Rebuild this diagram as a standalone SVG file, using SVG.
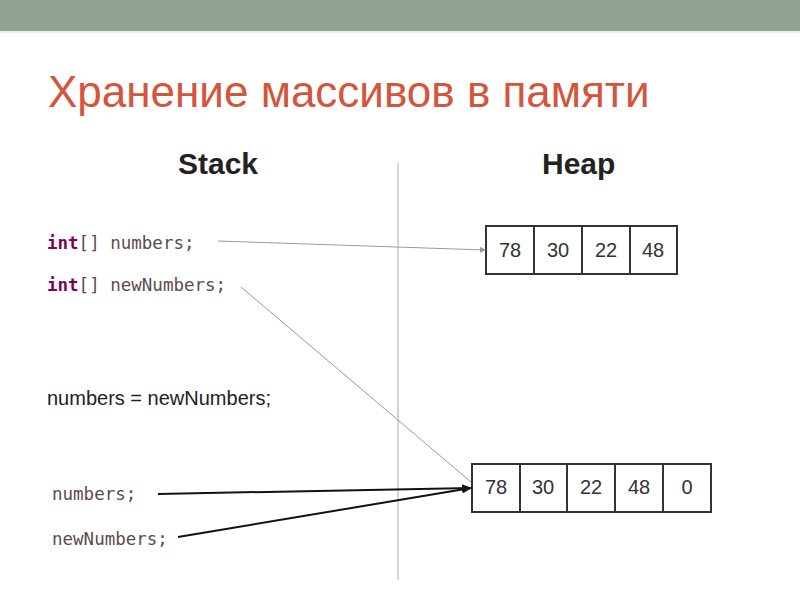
<svg xmlns="http://www.w3.org/2000/svg" width="800" height="600" viewBox="0 0 800 600">
<style>
.title{font-family:"Liberation Sans",Arial,sans-serif;font-size:44px;fill:#D2553C}
.head{font-family:"Liberation Sans",Arial,sans-serif;font-size:30px;font-weight:bold;fill:#222}
.code{font-family:"DejaVu Sans Mono",monospace;font-size:17.5px;fill:#5C4B4B}
.kw{font-weight:bold;fill:#7F0055}
.plain{font-family:"Liberation Sans",Arial,sans-serif;font-size:20px;fill:#222}
.cell{fill:#fff;stroke:#333;stroke-width:2}
.num{font-family:"Liberation Sans",Arial,sans-serif;font-size:20px;fill:#333;text-anchor:middle}
.thin{stroke:#999;stroke-width:1;fill:none}
.bold{stroke:#111;stroke-width:2;fill:none}
</style>
<defs>
<marker id="ah" markerWidth="10" markerHeight="8" refX="9" refY="4" orient="auto" markerUnits="userSpaceOnUse"><path d="M0,0 L10,4 L0,8 Z" fill="#111"/></marker>
<marker id="ahs" markerWidth="6" markerHeight="6" refX="5" refY="3" orient="auto" markerUnits="userSpaceOnUse"><path d="M0,0 L6,3 L0,6 Z" fill="#999"/></marker>
</defs>
<rect x="0" y="0" width="800" height="31" fill="#93A195"/>
<line x1="0" y1="32" x2="800" y2="32" stroke="#DDE3DE" stroke-width="1"/>
<text class="title" x="48" y="107">Хранение массивов в памяти</text>
<text class="head" x="178" y="174">Stack</text>
<text class="head" x="542" y="174">Heap</text>
<line x1="398" y1="163" x2="398" y2="580" stroke="#AAA" stroke-width="1"/>
<g id="stack-decl">
<text class="code" x="47" y="249"><tspan class="kw">int</tspan>[] numbers;</text>
<text class="code" x="47" y="291"><tspan class="kw">int</tspan>[] newNumbers;</text>
</g>
<text class="plain" x="47" y="405">numbers = newNumbers;</text>
<g id="stack-vars">
<text class="code" x="52" y="500">numbers;</text>
<text class="code" x="52" y="545">newNumbers;</text>
</g>
<g id="heap1">
<rect class="cell" x="486" y="226" width="48" height="48"/>
<rect class="cell" x="534" y="226" width="48" height="48"/>
<rect class="cell" x="582" y="226" width="48" height="48"/>
<rect class="cell" x="630" y="226" width="47" height="48"/>
<text class="num" x="510" y="257">78</text>
<text class="num" x="558" y="257">30</text>
<text class="num" x="606" y="257">22</text>
<text class="num" x="653" y="257">48</text>
</g>
<g id="heap2">
<rect class="cell" x="472" y="464" width="48" height="48"/>
<rect class="cell" x="520" y="464" width="47" height="48"/>
<rect class="cell" x="567" y="464" width="48" height="48"/>
<rect class="cell" x="615" y="464" width="48" height="48"/>
<rect class="cell" x="663" y="464" width="48" height="48"/>
<text class="num" x="496" y="494">78</text>
<text class="num" x="543" y="494">30</text>
<text class="num" x="591" y="494">22</text>
<text class="num" x="639" y="494">48</text>
<text class="num" x="687" y="494">0</text>
</g>
<g id="connectors">
<line class="thin" x1="218" y1="241" x2="485" y2="250" marker-end="url(#ahs)"/>
<line class="thin" x1="241" y1="287" x2="471" y2="482"/>
<line class="bold" x1="158" y1="494" x2="471" y2="488" marker-end="url(#ah)"/>
<line class="bold" x1="178" y1="537" x2="471" y2="488" marker-end="url(#ah)"/>
</g>
</svg>
